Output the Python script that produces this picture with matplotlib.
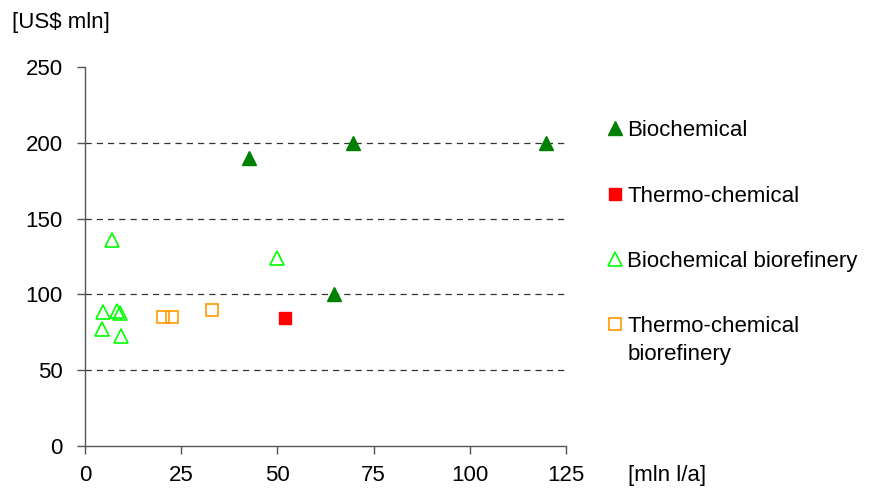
import matplotlib
matplotlib.use("Agg")
import matplotlib.pyplot as plt
from matplotlib.transforms import ScaledTranslation

plt.rcParams['font.family'] = ['Liberation Sans', 'DejaVu Sans']

# Plant capacity [mln l/a] vs. investment cost [US$ mln]
bio_x = [42.7, 69.7, 119.9, 64.7]
bio_y = [189.6, 199.7, 199.7, 100.3]

thermo_x = [52.0]
thermo_y = [84.3]

bio_ref_x = [7.0, 49.8, 4.75, 8.2, 9.1, 4.5, 9.4]
bio_ref_y = [135.9, 124.2, 88.6, 89.3, 87.6, 77.3, 72.8]

thermo_ref_x = [20.3, 22.6, 32.9]
thermo_ref_y = [85.3, 85.3, 89.5]

series_labels = ["Biochemical", "Thermo-chemical", "Biochemical biorefinery",
                 "Thermo-chemical\nbiorefinery"]
x_ticks = [0, 25, 50, 75, 100, 125]
y_ticks = [0, 50, 100, 150, 200, 250]

FS = 16

fig = plt.figure(figsize=(8.7, 4.88), dpi=100)
ax = fig.add_axes([0.0977, 0.086, 0.553, 0.777])

for y in y_ticks[1:-1]:
    ax.axhline(y, color='#333333', linestyle=(0, (5, 4)), linewidth=0.9, zorder=1)

h1, = ax.plot(bio_x, bio_y, linestyle='none', marker='^', markersize=10.5,
              color='#008000', markeredgecolor='#008000', zorder=3)
h2, = ax.plot(thermo_x, thermo_y, linestyle='none', marker='s', markersize=9,
              color='#FF0000', markeredgecolor='#FF0000', zorder=3)
h3, = ax.plot(bio_ref_x, bio_ref_y, linestyle='none', marker='^', markersize=10.5,
              markerfacecolor='none', markeredgecolor='#00FF00', markeredgewidth=1.2, zorder=3)
h4, = ax.plot(thermo_ref_x, thermo_ref_y, linestyle='none', marker='s', markersize=9,
              markerfacecolor='none', markeredgecolor='#FF9900', markeredgewidth=1.2, zorder=3)

ax.set_xlim(0, 125)
ax.set_ylim(0, 250)
ax.set_xticks(x_ticks)
ax.set_yticks(y_ticks)
ax.set_xticklabels([str(v) for v in x_ticks])
ax.set_yticklabels([str(v) for v in y_ticks])
ax.spines['top'].set_visible(False)
ax.spines['right'].set_visible(False)
for s in ('left', 'bottom'):
    ax.spines[s].set_color('#555555')
    ax.spines[s].set_linewidth(1.0)
ax.tick_params(axis='both', direction='out', length=6, width=1.0, color='#555555',
               labelsize=FS, labelcolor='black')
ax.tick_params(axis='x', pad=8)
ax.tick_params(axis='y', pad=10)

fig.text(0.014, 0.953, "[US$ mln]", fontsize=FS, va='center', ha='left')
fig.text(0.722, 0.025, "[mln l/a]", fontsize=FS, va='center', ha='left')

leg = fig.legend([h1, h2, h3, h4], series_labels, loc='upper left',
                 bbox_to_anchor=(0.686, 0.772), frameon=False, fontsize=FS,
                 labelspacing=2.0, handlelength=0.8, handletextpad=0.18,
                 borderaxespad=0, numpoints=1)
leg.get_texts()[3].set_linespacing(1.4)

# Align the last legend marker with the first line of its two-line label
last = leg.legend_handles[3]
last.set_transform(last.get_transform() + ScaledTranslation(0, 0.165, fig.dpi_scale_trans))

fig.savefig("out.png", dpi=100)
